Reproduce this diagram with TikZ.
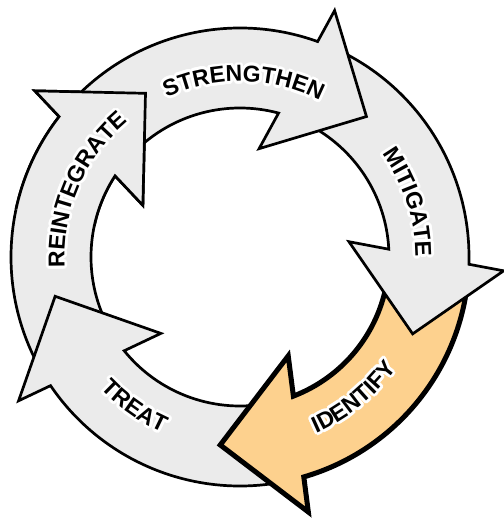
\documentclass[tikz,border=0pt]{standalone}
\usepackage{fontspec}
\newfontfamily\lblfont{Liberation Sans}
\usetikzlibrary{decorations.text}
\definecolor{ringgrey}{HTML}{EBEBEB}
\definecolor{ringorange}{HTML}{FDD18E}
\tikzset{
  greyarrow/.style={fill=ringgrey, draw=black, line width=2.7pt},
  hiarrow/.style={fill=ringorange, draw=black, line width=5pt},
}
% #1 tip angle, #2 style
\newcommand\cyclearrow[2]{%
  \path[#2] (#1+87:229pt) arc[start angle=#1+87, end angle=#1+22.18, radius=229pt]
     -- (#1+21:264pt) -- (#1:189pt) -- (#1+32:110pt) -- (#1+27:149pt)
     arc[start angle=#1+27, end angle=#1+87, radius=149pt] -- cycle;
}
% #1 start angle, #2 end angle, #3 radius, #4 text
\newcommand\ringlabel[4]{%
  \foreach \hh in {0,22.5,...,337.5}{%
    \path[shift={(\hh:2.8pt)}, decorate, decoration={text along path, text align=center,
      text color=white, text={|\lblfont\bfseries\fontsize{23pt}{23pt}\selectfont|#4}}]
      (#1:#3) arc[start angle=#1, end angle=#2, radius=#3];
  }%
  \path[decorate, decoration={text along path, text align=center,
      text color=black, text={|\lblfont\bfseries\fontsize{23pt}{23pt}\selectfont|#4}}]
      (#1:#3) arc[start angle=#1, end angle=#2, radius=#3];
}
\begin{document}
\begin{tikzpicture}
\useasboundingbox (-240pt,-264pt) rectangle (263pt,257pt);
% arrows: each head over the next tail
\cyclearrow{120}{greyarrow}  % reintegrate
\cyclearrow{192}{greyarrow}  % treat
\cyclearrow{264}{hiarrow}    % identify
\cyclearrow{336}{greyarrow}  % mitigate
\cyclearrow{48}{greyarrow}   % strengthen
\begin{scope}
  \clip (0,0) -- (112:320pt) arc[start angle=112, end angle=168, radius=320pt] -- cycle;
  \cyclearrow{120}{greyarrow}
\end{scope}
% labels
\ringlabel{128.8}{48.8}{175.5pt}{STRENGTHEN}
\ringlabel{58}{-22}{175.5pt}{MITIGATE}
\ringlabel{196.5}{116.5}{175.5pt}{REINTEGRATE}
\ringlabel{269}{349}{192pt}{IDENTIFY}
\ringlabel{194.8}{274.8}{192pt}{TREAT}
\end{tikzpicture}
\end{document}
